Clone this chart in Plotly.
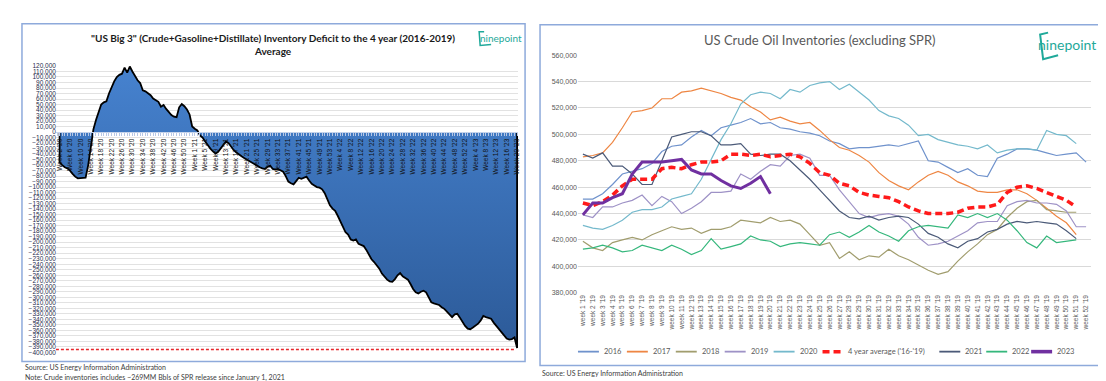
import plotly.graph_objects as go

W, H = 1106, 381

# ---------------- LEFT CHART DATA ----------------
left_weeks = ([f"Week {w} '20" for w in range(2, 54)] +
              [f"Week {w} '21" for w in range(1, 54)] +
              [f"Week {w} '22" for w in range(1, 53)] +
              [f"Week {w} '23" for w in range(1, 21)])

deficit = [
    -55000, -60000, -64000, -66000, -70000, -76000, -81000, -84000, -84000, -84000,
    -83000, -60000, -25000, 5000, 22000, 38000, 50000, 54000, 56000, 70000,
    82000, 92000, 100000, 104000, 106000, 117000, 108000, 119000, 110000, 101000,
    94000, 89000, 76000, 74000, 71000, 67000, 61000, 58000, 55000, 46000,
    49000, 42000, 36000, 31000, 28000, 27000, 45000, 51000, 47000, 41000,
    32000, 10000, 6000, 3000, -6000, -10000, -17000, -24000, -30000, -35000,
    -39000, -36000, -29000, -22000, -17000, -20000, -27000, -33000, -37000, -41000,
    -44000, -47000, -50000, -52000, -56000, -58000, -61000, -64000, -66000, -67000,
    -63000, -61000, -67000, -68000, -67000, -69000, -72000, -80000, -90000, -93000,
    -95000, -89000, -83000, -85000, -83000, -81000, -88000, -94000, -97000, -100000,
    -101000, -104000, -111000, -121000, -133000, -139000, -143000, -152000, -162000, -172000,
    -182000, -186000, -195000, -197000, -195000, -203000, -205000, -207000, -214000, -224000,
    -231000, -236000, -242000, -248000, -257000, -263000, -268000, -271000, -272000, -267000,
    -260000, -256000, -262000, -265000, -268000, -276000, -285000, -291000, -293000, -290000,
    -288000, -291000, -300000, -309000, -311000, -312000, -314000, -318000, -321000, -326000,
    -331000, -336000, -331000, -330000, -337000, -345000, -352000, -357000, -358000, -355000,
    -352000, -348000, -342000, -334000, -336000, -337000, -339000, -346000, -352000, -358000,
    -363000, -369000, -375000, -377000, -376000, -373000, -392000,
]
red_level = -395000

# ---------------- RIGHT CHART DATA (thousand bbl, in thousands) ----------------
weeks19 = [f"week {w} '19" for w in range(1, 53)]

s2016 = [451, 451, 455, 462, 470, 472, 474, 478, 487, 491, 492, 498, 503, 499, 505, 507, 509, 512, 508, 509,
         505, 504, 502, 501, 499, 495, 493, 489, 490, 490, 491, 492, 491, 493, 495, 480, 479, 475, 471, 474,
         469, 468, 482, 485, 489, 489, 488, 486, 484, 485, 486, 479]
s2017 = [483, 484, 486, 494, 505, 517, 518, 520, 527, 527, 532, 533, 535, 533, 531, 528, 526, 521, 517, 511,
         513, 510, 508, 509, 503, 496, 490, 488, 484, 479, 471, 465, 461, 458, 464, 469, 472, 469, 464, 461,
         457, 456, 456, 458, 458, 455, 450, 444, 438, 433, 424, None]
s2018 = [419, 414, 412, 418, 420, 422, 420, 424, 427, 430, 428, 429, 425, 428, 428, 430, 435, 434, 433, 437,
         434, 435, 432, 424, 416, 418, 406, 411, 405, 408, 407, 413, 408, 405, 401, 397, 394, 396, 404, 411,
         417, 424, 428, 437, 444, 449, 450, 443, 442, 441, 441, None]
s2019 = [439, 437, 445, 445, 448, 450, 454, 446, 453, 449, 440, 444, 449, 456, 456, 457, 470, 466, 472, 477,
         476, 484, 485, 482, 469, 469, 458, 449, 440, 437, 439, 440, 438, 432, 422, 416, 417, 419, 423, 427,
         433, 434, 434, 446, 449, 450, 448, 448, 447, 442, 430, 430]
s2020 = [431, 429, 428, 431, 435, 441, 443, 443, 445, 451, 453, 455, 466, 481, 496, 508, 523, 530, 532, 531,
         527, 534, 532, 537, 539, 540, 534, 538, 532, 526, 518, 514, 512, 507, 499, 500, 496, 494, 492, 491,
         489, 492, 486, 488, 489, 489, 488, 503, 500, 499, 493, None]
s_avg = [448, 446, 449, 454, 461, 466, 466, 466, 474, 475, 474, 477, 479, 479, 480, 485, 485, 484, 485, 483,
         484, 485, 483, 478, 471, 469, 463, 461, 456, 454, 453, 452, 449, 445, 442, 440, 440, 440, 441, 444,
         445, 445, 447, 456, 460, 461, 459, 456, 453, 450, 445, None]
s2021 = [485, 482, 486, 476, 476, 470, 462, 462, 480, 498, 500, 502, 502, 499, 492, 492, 493, 485, 484, 485,
         485, 480, 473, 466, 458, 450, 442, 437, 436, 438, 435, 437, 438, 437, 432, 425, 422, 417, 414, 419,
         421, 426, 428, 432, 434, 433, 434, 433, 432, 427, 421, None]
s2022 = [413, 414, 416, 414, 411, 412, 416, 414, 412, 416, 413, 409, 412, 421, 413, 415, 417, 423, 420, 419,
         415, 417, 418, 417, 416, 424, 426, 422, 426, 431, 426, 423, 419, 427, 430, 431, 430, 429, 439, 437,
         440, 437, 440, 435, 427, 418, 414, 423, 418, 419, 420, None]
s2023 = [439, 448, 448, 452, 455, 470, 479, 479, 479, 480, 481, 473, 470, 470, 465, 461, 459, 463, 468, 455]

series_names = ["2016", "2017", "2018", "2019", "2020", "4 year average ('16-'19)", "2021", "2022", "2023"]
series_vals = [s2016, s2017, s2018, s2019, s2020, s_avg, s2021, s2022, s2023]
series_colors = ["#6f92cc", "#ee8643", "#a19d6e", "#9e92c6", "#74b9cc", "#ff1a1a", "#4b5a78", "#35b77c", "#7030a0"]
series_widths = [1.2, 1.2, 1.2, 1.2, 1.2, 3.5, 1.2, 1.2, 3.0]
series_dash = ["solid"] * 5 + ["7px,4px"] + ["solid"] * 3
draw_order = [0, 1, 2, 3, 4, 6, 7, 5, 8]


def fx(px):
    return px / W


def fy(py):
    return 1 - py / H


fig = go.Figure()

# ---------- left area ----------
idx = list(range(len(deficit)))
fig.add_trace(go.Scatter(
    x=[idx[0]] + idx + [idx[-1]], y=[0] + deficit + [0],
    xaxis="x", yaxis="y", mode="lines",
    line=dict(color="#000000", width=1.8),
    fill="tozeroy",
    fillgradient=dict(type="vertical", colorscale=[[0, "#2c5a98"], [1, "#4682cf"]]),
    showlegend=False, hoverinfo="skip"))

# ---------- right lines ----------
for i in draw_order:
    vals = series_vals[i]
    fig.add_trace(go.Scatter(
        x=weeks19[:len(vals)], y=vals, xaxis="x2", yaxis="y2", mode="lines",
        name=series_names[i],
        line=dict(color=series_colors[i], width=series_widths[i], dash=series_dash[i]),
        showlegend=False))

# left domain
lx0, lx1 = fx(48), fx(511)
ly0, ly1 = fy(346.7), fy(55)
ymin, ymax = -400000, 120000
zero_pos = ly0 + (0 - ymin) / (ymax - ymin) * (ly1 - ly0)
step_px = 2.604
xr0 = (48 - 51.7) / step_px
xr1 = (511 - 51.7) / step_px

tick_idx = list(range(0, len(left_weeks), 4))

fig.update_layout(
    width=W, height=H, margin=dict(l=0, r=0, t=0, b=0),
    paper_bgcolor="white", plot_bgcolor="white", showlegend=False,
    font=dict(family="Liberation Sans, Arial, sans-serif"),
    xaxis=dict(domain=[lx0, lx1], range=[xr0, xr1], anchor="free", position=zero_pos,
               tickmode="array", tickvals=tick_idx, ticktext=[left_weeks[i] for i in tick_idx],
               tickangle=-90, tickfont=dict(size=6.5, color="#111111"),
               showgrid=False, zeroline=False, showline=True, linecolor="#c5d3ea", linewidth=1,
               ticks="outside", ticklen=3, tickcolor="#b7c8e6",
               minor=dict(tickmode="linear", tick0=0, dtick=1, ticks="outside", ticklen=3,
                          tickcolor="#b7c8e6", showgrid=False)),
    yaxis=dict(domain=[ly0, ly1], range=[ymin, ymax], anchor="free", position=lx0,
               dtick=10000, tick0=0, tickformat=",",
               tickfont=dict(size=6.5, color="#1f2d4d"),
               showgrid=True, gridcolor="#e2e2e2", gridwidth=1, zeroline=False, ticks=""),
    xaxis2=dict(domain=[fx(571), fx(1085)], anchor="y2", type="category", range=[-0.5, 51.5],
                tickangle=-90, tickfont=dict(size=6.5, color="#595959"),
                showgrid=False, zeroline=False, showline=False, ticks=""),
    yaxis2=dict(domain=[fy(286), fy(44)], anchor="x2", range=[380, 560], dtick=20, tick0=380,
                ticksuffix=",000", tickfont=dict(size=7, color="#595959"),
                showgrid=True, gridcolor="#d9d9d9", gridwidth=1, zeroline=False, ticks=""),
)

shapes = []
# panel borders
shapes.append(dict(type="rect", xref="paper", yref="paper", x0=fx(14), x1=fx(518), y0=fy(356), y1=fy(12),
                   line=dict(color="#8eaadb", width=1.5), fillcolor="rgba(0,0,0,0)", layer="below"))
shapes.append(dict(type="rect", xref="paper", yref="paper", x0=fx(533), x1=fx(1094), y0=fy(360), y1=fy(13),
                   line=dict(color="#8eaadb", width=1.5), fillcolor="rgba(0,0,0,0)", layer="below"))
# red dashed level line on left
shapes.append(dict(type="line", xref="x domain", yref="y", x0=0, x1=0.992, y0=red_level, y1=red_level,
                   line=dict(color="#e8262b", width=1.5, dash="3px,2px")))

annotations = []
annotations.append(dict(
    text="<b>\"US Big 3\" (Crude+Gasoline+Distillate) Inventory Deficit to the 4 year (2016-2019)<br>Average</b>",
    xref="paper", yref="paper", x=fx(265), y=fy(33), xanchor="center", yanchor="middle",
    showarrow=False, font=dict(family="Liberation Sans Narrow, Lato, sans-serif", size=10, color="#1a1a1a")))
annotations.append(dict(
    text="US Crude Oil Inventories (excluding SPR)", xref="paper", yref="paper", x=fx(813), y=fy(29),
    xanchor="center", yanchor="middle", showarrow=False,
    font=dict(family="Lato, Liberation Sans, sans-serif", size=13, color="#595959")))
# logos
annotations.append(dict(text="ninepoint", xref="paper", yref="paper", x=fx(494), y=fy(26),
                        xanchor="center", yanchor="middle", showarrow=False,
                        font=dict(family="Lato, sans-serif", size=10, color="#1fa99a")))
annotations.append(dict(text="ninepoint", xref="paper", yref="paper", x=fx(1061), y=fy(33),
                        xanchor="center", yanchor="middle", showarrow=False,
                        font=dict(family="Lato, sans-serif", size=14, color="#1fa99a")))
shapes.append(dict(type="path", xref="paper", yref="paper",
                   path=f"M {fx(477)} {fy(20)} L {fx(472)} {fy(20)} L {fx(473)} {fy(34)} L {fx(484)} {fy(33)}",
                   line=dict(color="#1fa99a", width=1.5)))
shapes.append(dict(type="path", xref="paper", yref="paper",
                   path=f"M {fx(1042)} {fy(21)} L {fx(1034)} {fy(23)} L {fx(1037)} {fy(48)} L {fx(1052)} {fy(44)}",
                   line=dict(color="#1fa99a", width=2)))

# footnotes
foot_font = dict(family="Lato, Liberation Sans, sans-serif", size=7, color="#404040")
annotations.append(dict(text="Source: US Energy Information Administration", xref="paper", yref="paper",
                        x=fx(15), y=fy(362), xanchor="left", yanchor="middle", showarrow=False, font=foot_font))
annotations.append(dict(text="Note: Crude inventories includes ~269MM Bbls of SPR release since January 1, 2021",
                        xref="paper", yref="paper", x=fx(15), y=fy(372), xanchor="left", yanchor="middle",
                        showarrow=False, font=foot_font))
annotations.append(dict(text="Source: US Energy Information Administration", xref="paper", yref="paper",
                        x=fx(533), y=fy(368), xanchor="left", yanchor="middle", showarrow=False, font=foot_font))

# custom legend for the right chart
leg_x = [571, 620, 669, 718, 767, 816, 933, 980, 1025]
leg_y = 346
for i, name in enumerate(series_names):
    x0 = leg_x[i]
    if series_dash[i] != "solid":
        shapes.append(dict(type="line", xref="paper", yref="paper", x0=fx(x0), x1=fx(x0 + 21),
                           y0=fy(leg_y), y1=fy(leg_y),
                           line=dict(color=series_colors[i], width=3.5, dash="7px,4px")))
    else:
        shapes.append(dict(type="line", xref="paper", yref="paper", x0=fx(x0), x1=fx(x0 + 21),
                           y0=fy(leg_y), y1=fy(leg_y),
                           line=dict(color=series_colors[i], width=series_widths[i] + 0.6)))
    annotations.append(dict(text=name, xref="paper", yref="paper", x=fx(x0 + 24), y=fy(leg_y),
                            xanchor="left", yanchor="middle", showarrow=False,
                            font=dict(family="Lato, Liberation Sans, sans-serif", size=7.5, color="#595959")))

fig.update_layout(shapes=shapes, annotations=annotations)
fig.write_html("out.html")
